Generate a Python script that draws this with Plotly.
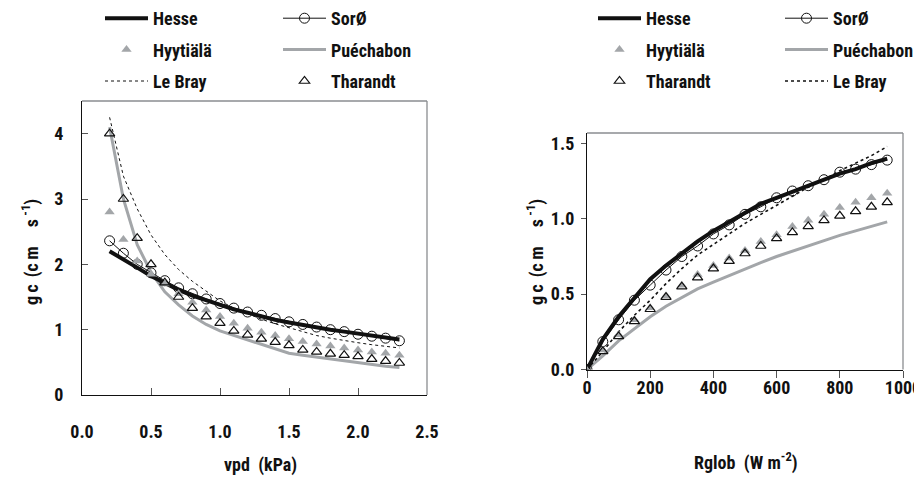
import plotly.graph_objects as go

# ---------------- data ----------------
vpd = [0.2, 0.3, 0.4, 0.5, 0.6, 0.7, 0.8, 0.9, 1.0, 1.1, 1.2, 1.3, 1.4, 1.5,
       1.6, 1.7, 1.8, 1.9, 2.0, 2.1, 2.2, 2.3]
vpd_hesse = [2.20, 2.08, 1.95, 1.82, 1.71, 1.61, 1.52, 1.45, 1.38, 1.31, 1.26,
             1.20, 1.15, 1.11, 1.07, 1.03, 1.00, 0.97, 0.94, 0.91, 0.88, 0.85]
vpd_soro = [2.36, 2.17, 2.00, 1.87, 1.75, 1.64, 1.55, 1.47, 1.40, 1.33, 1.27,
            1.22, 1.17, 1.12, 1.08, 1.04, 1.00, 0.97, 0.93, 0.90, 0.87, 0.83]
vpd_hyytiala = [2.80, 2.38, 2.05, 1.85, 1.70, 1.55, 1.42, 1.30, 1.20, 1.10, 1.02,
                0.96, 0.91, 0.86, 0.82, 0.78, 0.75, 0.72, 0.69, 0.66, 0.64, 0.61]
vpd_puechabon = [4.10, 3.00, 2.30, 1.88, 1.58, 1.38, 1.21, 1.08, 0.98, 0.91, 0.85,
                 0.78, 0.70, 0.64, 0.61, 0.58, 0.55, 0.52, 0.49, 0.46, 0.44, 0.42]
vpd_lebray = [4.25, 3.35, 2.85, 2.45, 2.15, 1.92, 1.74, 1.59, 1.44, 1.33, 1.24,
              1.16, 1.09, 1.03, 0.97, 0.91, 0.87, 0.83, 0.80, 0.77, 0.74, 0.72]
vpd_tharandt = [4.00, 3.00, 2.40, 2.00, 1.72, 1.50, 1.33, 1.20, 1.10, 0.98, 0.92,
                0.86, 0.81, 0.76, 0.69, 0.66, 0.63, 0.61, 0.59, 0.55, 0.52, 0.49]

rglob = [0, 50, 100, 150, 200, 250, 300, 350, 400, 450, 500, 550, 600, 650,
         700, 750, 800, 850, 900, 950]
rg_hesse = [0.00, 0.20, 0.35, 0.48, 0.60, 0.69, 0.77, 0.85, 0.92, 0.98, 1.04,
            1.10, 1.14, 1.18, 1.22, 1.26, 1.30, 1.33, 1.37, 1.40]
rg_soro = [0.00, 0.185, 0.33, 0.46, 0.56, 0.66, 0.75, 0.82, 0.90, 0.96, 1.03,
           1.08, 1.14, 1.185, 1.22, 1.26, 1.31, 1.33, 1.36, 1.39]
rg_hyytiala = [0.00, 0.13, 0.23, 0.33, 0.41, 0.49, 0.56, 0.63, 0.69, 0.74, 0.79,
               0.85, 0.895, 0.95, 0.99, 1.03, 1.075, 1.11, 1.14, 1.17]
rg_puechabon = [0.00, 0.09, 0.19, 0.27, 0.35, 0.42, 0.48, 0.535, 0.58, 0.625, 0.665,
                0.71, 0.75, 0.785, 0.825, 0.86, 0.89, 0.92, 0.95, 0.98]
rg_tharandt = [0.00, 0.12, 0.22, 0.32, 0.40, 0.48, 0.55, 0.61, 0.67, 0.72, 0.77,
               0.82, 0.87, 0.91, 0.95, 0.99, 1.02, 1.05, 1.08, 1.11]
rg_lebray = [0.00, 0.12, 0.25, 0.36, 0.46, 0.57, 0.67, 0.76, 0.83, 0.90, 0.97,
             1.03, 1.09, 1.15, 1.21, 1.26, 1.32, 1.37, 1.42, 1.48]

vpd_ticks = [0.0, 0.5, 1.0, 1.5, 2.0, 2.5]
gc_left_ticks = [0, 1, 2, 3, 4]
rg_ticks = [0, 200, 400, 600, 800, 1000]
gc_right_ticks = [0.0, 0.5, 1.0, 1.5]

# ---------------- style ----------------
FONT = "Liberation Sans Narrow, Arial Narrow, Roboto Condensed, DejaVu Sans Condensed, sans-serif"
BLACK = "#111111"
GREY = "#a3a6a9"
FRAME = "#8a8d90"

def styles(name, width_dot=1.0):
    if name == "Hesse":
        return dict(mode="lines", line=dict(color=BLACK, width=4))
    if name == "SorØ":
        return dict(mode="lines+markers", line=dict(color=BLACK, width=1),
                    marker=dict(symbol="circle-open", size=10, color=BLACK,
                                line=dict(width=1, color=BLACK)))
    if name == "Hyytiälä":
        return dict(mode="markers", marker=dict(symbol="triangle-up", size=9, color=GREY))
    if name == "Puéchabon":
        return dict(mode="lines", line=dict(color=GREY, width=3))
    if name == "Le Bray":
        return dict(mode="lines", line=dict(color=BLACK, width=width_dot, dash="dot"))
    if name == "Tharandt":
        return dict(mode="markers", marker=dict(symbol="triangle-up-open", size=9,
                                                color=BLACK, line=dict(width=1.2, color=BLACK)))

fig = go.Figure()

left_series = [("Puéchabon", vpd_puechabon), ("Le Bray", vpd_lebray),
               ("Hesse", vpd_hesse), ("SorØ", vpd_soro),
               ("Hyytiälä", vpd_hyytiala), ("Tharandt", vpd_tharandt)]
left_legend = {"Hesse": ("legend", 1), "Hyytiälä": ("legend", 2), "Le Bray": ("legend", 3),
               "SorØ": ("legend2", 1), "Puéchabon": ("legend2", 2), "Tharandt": ("legend2", 3)}
for name, ys in left_series:
    lg, rank = left_legend[name]
    fig.add_trace(go.Scatter(x=vpd, y=ys, name=name, xaxis="x", yaxis="y",
                             legend=lg, legendrank=rank, legendgroup="L" + name,
                             **styles(name, 1.0)))

right_series = [("Puéchabon", rg_puechabon), ("Le Bray", rg_lebray),
                ("Hesse", rg_hesse), ("SorØ", rg_soro),
                ("Hyytiälä", rg_hyytiala), ("Tharandt", rg_tharandt)]
right_legend = {"Hesse": ("legend3", 1), "Hyytiälä": ("legend3", 2), "Tharandt": ("legend3", 3),
                "SorØ": ("legend4", 1), "Puéchabon": ("legend4", 2), "Le Bray": ("legend4", 3)}
for name, ys in right_series:
    lg, rank = right_legend[name]
    fig.add_trace(go.Scatter(x=rglob, y=ys, name=name, xaxis="x2", yaxis="y2",
                             legend=lg, legendrank=rank, legendgroup="R" + name,
                             **styles(name, 1.6)))

# page body has an 8px margin: figure is placed at (8, 8) in the window
OFF = 8
W, H = 914, 470
tickfont = dict(family=FONT, size=18, color=BLACK, weight="bold")

def px_x(a, b):
    return [(a - OFF) / W, (b - OFF) / W]

def px_y(top, bottom):
    return [1 - (bottom - OFF) / H, 1 - (top - OFF) / H]

def sx(a):
    return (a - OFF) / W

def sy(a):
    return 1 - (a - OFF) / H

common_axis = dict(showgrid=False, zeroline=False, showline=True, linecolor=BLACK,
                   linewidth=1.3, tickcolor="#555555", tickwidth=1.2, tickfont=tickfont,
                   automargin=False)

fig.update_layout(
    template="none",
    width=W, height=H, margin=dict(l=0, r=0, t=0, b=0, autoexpand=False),
    paper_bgcolor="white", plot_bgcolor="white",
    font=dict(family=FONT, color=BLACK),
    xaxis=dict(domain=px_x(82, 427), range=[0, 2.5], tickvals=vpd_ticks, tickformat=".1f",
               ticks="inside", ticklen=7, ticklabelstandoff=20, anchor="y", **common_axis),
    yaxis=dict(domain=px_y(101, 395), range=[0, 4.5], tickvals=gc_left_ticks,
               ticks="inside", ticklen=6, ticklabelstandoff=14, anchor="x", **common_axis),
    xaxis2=dict(domain=px_x(587, 903), range=[0, 1000], tickvals=rg_ticks,
                ticks="outside", ticklen=7, ticklabelstandoff=-5, anchor="y2", **common_axis),
    yaxis2=dict(domain=px_y(133, 369.5), range=[0, 1.57], tickvals=gc_right_ticks, tickformat=".1f",
                ticks="outside", ticklen=5, ticklabelstandoff=3, anchor="x2", **common_axis),
)

legend_common = dict(orientation="v", xanchor="left", yanchor="top", bgcolor="rgba(0,0,0,0)",
                     traceorder="grouped", tracegroupgap=5, itemwidth=43,
                     font=dict(family=FONT, size=18, color=BLACK, weight="bold"))
LEG_TOP = sy(0)
fig.update_layout(
    legend=dict(x=sx(100), y=LEG_TOP, **legend_common),
    legend2=dict(x=sx(278), y=LEG_TOP, **legend_common),
    legend3=dict(x=sx(593), y=LEG_TOP, **legend_common),
    legend4=dict(x=sx(780), y=LEG_TOP, **legend_common),
)

# grey top / right frame
for xr, yr in [("x domain", "y domain"), ("x2 domain", "y2 domain")]:
    fig.add_shape(type="line", xref=xr, yref=yr, x0=0, x1=1, y0=1, y1=1,
                  line=dict(color=FRAME, width=1.3))
    fig.add_shape(type="line", xref=xr, yref=yr, x0=1, x1=1, y0=0, y1=1,
                  line=dict(color=FRAME, width=1.3))

title_font = dict(family=FONT, size=18, color=BLACK, weight="bold")
ann = dict(xref="paper", yref="paper", showarrow=False, font=title_font,
           xanchor="center", yanchor="middle")
fig.add_annotation(text="vpd  (kPa)", x=sx(260), y=sy(465), **ann)
fig.add_annotation(text="Rglob  (W m<sup>-2</sup>)", x=sx(746), y=sy(461), **ann)
ytitle = "g\u2009c\u2009\u2009(c\u2009m\u2003\u2009s\u2009<sup>-1</sup>)"
fig.add_annotation(text=ytitle, x=sx(30), y=sy(252), textangle=-90, **ann)
fig.add_annotation(text=ytitle, x=sx(535), y=sy(252), textangle=-90, **ann)

fig.write_html("out.html")
